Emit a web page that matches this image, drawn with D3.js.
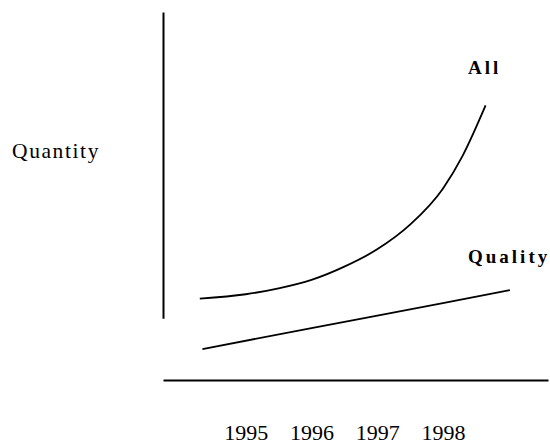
<!DOCTYPE html>
<html>
<head>
<meta charset="utf-8">
<script src="https://cdn.jsdelivr.net/npm/d3@7"></script>
<style>
    body { margin: 0; background: #fff; }
</style>
</head>
<body>
<div class="chart-container"></div>
<script>
// Data (years on x, quantity in arbitrary units on y)
const years = [1995, 1996, 1997, 1998];
const allYears = [1994.3, 1995, 1995.5, 1996, 1996.5, 1997, 1997.5, 1998, 1998.3, 1998.65];
const allValues = [22.1, 23.3, 24.9, 27.2, 30.8, 35.5, 42.2, 52.0, 60.9, 74.6];
const qualityYears = [1994.34, 1996, 1998, 1999.02];
const qualityValues = [8.4, 14.1, 20.9, 24.4];
const seriesNames = ['All', 'Quality'];
const yLabel = 'Quantity';

const serif = '"Liberation Serif", "Times New Roman", serif';

function setupCanvas(){
    const svg_width = 550;
    const svg_height = 444;

    const svg = d3.select('.chart-container').append('svg')
                  .attr('width', svg_width).attr('height', svg_height);

    const xScale = d3.scaleLinear([1993.74, 1999.6], [163, 548]);
    const yScale = d3.scaleLinear([0, 100], [380, 12]);

    const allData = allYears.map((d, i) => ({year: d, value: allValues[i]}));
    const qualityData = qualityYears.map((d, i) => ({year: d, value: qualityValues[i]}));

    const line = d3.line()
                   .x(d => xScale(d.year))
                   .y(d => yScale(d.value))
                   .curve(d3.curveMonotoneX);

    // x axis: plain line, labels well below it
    const xAxis = d3.axisBottom(xScale)
                    .tickValues(years)
                    .tickFormat(d3.format('d'))
                    .tickSize(0)
                    .tickPadding(44);
    const xAxisDraw = svg.append('g')
                         .attr('class', 'x axis')
                         .attr('transform', `translate(0,${yScale(0)})`)
                         .call(xAxis);
    xAxisDraw.select('.domain').attr('stroke', '#000').attr('stroke-width', 2);
    xAxisDraw.selectAll('text')
             .style('font-family', serif)
             .style('font-size', '22px')
             .style('fill', '#000');

    // y axis: vertical line only
    const yAxisScale = d3.scaleLinear([16.8, 100], [yScale(16.8), yScale(100)]);
    const yAxis = d3.axisLeft(yAxisScale).tickValues([]).tickSizeOuter(0);
    const yAxisDraw = svg.append('g')
                         .attr('class', 'y axis')
                         .attr('transform', `translate(${xScale.range()[0]},0)`)
                         .call(yAxis);
    yAxisDraw.select('.domain').attr('stroke', '#000').attr('stroke-width', 2);

    svg.append('text')
       .attr('x', 12).attr('y', 158)
       .style('font-family', serif)
       .style('font-size', '21.5px')
       .style('letter-spacing', '1.6px')
       .text(yLabel);

    svg.selectAll('.series')
       .data([allData, qualityData])
       .join('path')
       .attr('class', 'series')
       .attr('d', line)
       .attr('fill', 'none')
       .attr('stroke', '#000')
       .attr('stroke-width', 1.8);

    // series labels
    const labelPos = [[468, 74], [468, 263]];
    svg.selectAll('.series-label')
       .data(seriesNames)
       .join('text')
       .attr('class', 'series-label')
       .attr('x', (d, i) => labelPos[i][0])
       .attr('y', (d, i) => labelPos[i][1])
       .style('font-family', serif)
       .style('font-weight', 'bold')
       .style('font-size', '19px')
       .style('letter-spacing', '3px')
       .text(d => d);
}

setupCanvas();
</script>
</body>
</html>
